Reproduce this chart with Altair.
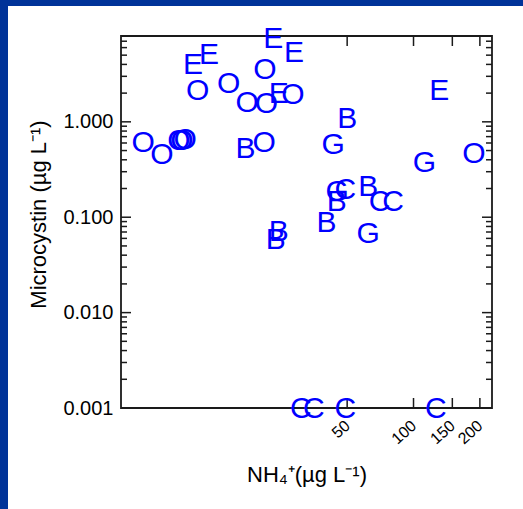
import altair as alt
import pandas as pd

# ---- data ----
labels = ["E", "E", "E", "E", "O", "O", "O", "O", "O", "E", "O", "E", "B",
          "O", "O", "O", "O", "O", "B", "O", "G", "G", "O", "G", "C", "B",
          "B", "C", "C", "B", "B", "B", "G", "C", "C", "C", "C"]
nh4 = [23.1, 28.7, 11.8, 10.0, 21.2, 14.5, 10.5, 17.6, 21.5, 24.5, 28.4, 130.8, 50.0,
       5.94, 7.22, 8.62, 8.9, 9.2, 17.3, 21.0, 43.2, 112, 188, 45.1, 49.1, 44.8,
       62.3, 70.2, 80.7, 24.5, 23.7, 40.3, 62.3, 30.8, 35.3, 49.1, 126.4]
microcystin = [7.52, 5.36, 5.14, 4.04, 3.58, 2.53, 2.15, 1.60, 1.56, 2.0, 1.95, 2.17, 1.09,
               0.616, 0.458, 0.64, 0.65, 0.66, 0.538, 0.616, 0.583, 0.375, 0.469, 0.188, 0.196, 0.148,
               0.213, 0.148, 0.148, 0.0716, 0.0586, 0.089, 0.069, 0.001, 0.001, 0.001, 0.001]

x_ticks = [50, 100, 150, 200]
y_major = [0.001, 0.01, 0.1, 1.0]
y_minor = [0.002, 0.003, 0.004, 0.005, 0.006, 0.007, 0.008, 0.009,
           0.02, 0.03, 0.04, 0.05, 0.06, 0.07, 0.08, 0.09,
           0.2, 0.3, 0.4, 0.5, 0.6, 0.7, 0.8, 0.9,
           2, 3, 4, 5, 6, 7]

x_domain = [4.71, 227]
y_domain = [0.001, 7.94]

W, H = 371, 372
FONT = "Liberation Sans, Arial, sans-serif"
AX = "#1a1a1a"
FRAME_BLUE = "#003399"

pts = pd.DataFrame({"nh4": nh4, "mc": microcystin, "lab": labels})
xt = pd.DataFrame({"v": x_ticks})
ymaj = pd.DataFrame({"v": y_major})
ymin = pd.DataFrame({"v": y_minor})
one = pd.DataFrame({"a": [0]})

xs = alt.Scale(type="log", domain=x_domain, nice=False)
ys = alt.Scale(type="log", domain=y_domain, nice=False)

xaxis = alt.Axis(values=x_ticks, format="d", ticks=False, tickSize=0, domain=False, grid=False,
                 labelAngle=-42, labelAlign="right", labelBaseline="middle", labelPadding=15,
                 labelFontSize=16, labelFont=FONT, labelColor="black", labelOverlap=False,
                 title="NH₄⁺(µg L⁻¹)", titleFont=FONT, titleFontSize=22, titleFontWeight="normal",
                 titleColor="black", titleY=73, titleBaseline="alphabetic", zindex=1)
yaxis = alt.Axis(values=y_major, format=".3f", ticks=False, tickSize=0, domain=False, grid=False,
                 labelPadding=8, labelFontSize=20, labelFont=FONT, labelColor="black",
                 labelOverlap=False,
                 title="Microcystin (µg L⁻¹)", titleFont=FONT, titleFontSize=22,
                 titleFontWeight="normal", titleColor="black", titleX=-83, titleY=178,
                 titleAngle=-90, titleAlign="center", titleBaseline="middle", zindex=1)

# blue strips along the top and left edges of the picture
strip_top = alt.Chart(one).mark_rect(color=FRAME_BLUE).encode(
    x=alt.value(-121), x2=alt.value(402), y=alt.value(-36), y2=alt.value(-30))
strip_left = alt.Chart(one).mark_rect(color=FRAME_BLUE).encode(
    x=alt.value(-121), x2=alt.value(-113), y=alt.value(-36), y2=alt.value(473))

MAJ, MIN = 10, 6
tick_style = dict(color=AX, strokeWidth=1.5)

def yy(f):
    return alt.Y(f, scale=ys, axis=yaxis)

def xx(f):
    return alt.X(f, scale=xs, axis=xaxis)

yl_maj = alt.Chart(ymaj).mark_rule(**tick_style).encode(y=yy("v:Q"), x=alt.value(0), x2=alt.value(MAJ))
yr_maj = alt.Chart(ymaj).mark_rule(**tick_style).encode(y=yy("v:Q"), x=alt.value(W - MAJ), x2=alt.value(W))
yl_min = alt.Chart(ymin).mark_rule(**tick_style).encode(y=yy("v:Q"), x=alt.value(0), x2=alt.value(MIN))
yr_min = alt.Chart(ymin).mark_rule(**tick_style).encode(y=yy("v:Q"), x=alt.value(W - MIN), x2=alt.value(W))
xb = alt.Chart(xt).mark_rule(**tick_style).encode(x=xx("v:Q"), y=alt.value(H - MAJ), y2=alt.value(H))
xtop = alt.Chart(xt).mark_rule(**tick_style).encode(x=xx("v:Q"), y=alt.value(0), y2=alt.value(MAJ))

frame = alt.Chart(one).mark_rect(filled=False, stroke=AX, strokeWidth=1.8).encode(
    x=alt.value(0), x2=alt.value(W), y=alt.value(0), y2=alt.value(H))

letters = alt.Chart(pts).mark_text(font=FONT, fontSize=30, color="#0000ff",
                                   align="center", baseline="middle", dy=1).encode(
    x=xx("nh4:Q"),
    y=yy("mc:Q"),
    text="lab:N")

chart = alt.layer(strip_top, strip_left, yl_maj, yr_maj, yl_min, yr_min, xb, xtop, frame, letters).properties(
    width=W, height=H,
    autosize=alt.AutoSizeParams(type="none"),
    padding={"left": 121, "top": 36, "right": 31, "bottom": 101},
    background="white",
).configure_view(stroke=None)

chart.save("out.html", embed_options={"renderer": "svg", "actions": False})
